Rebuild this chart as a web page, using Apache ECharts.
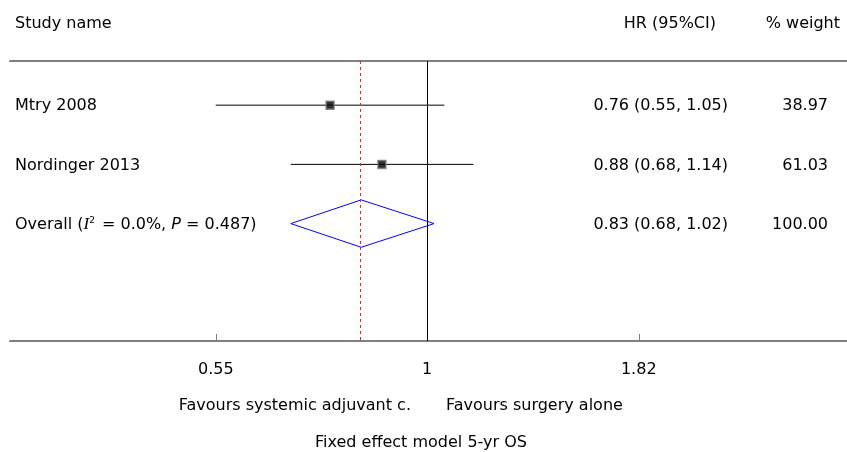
<!DOCTYPE html>
<html><head><meta charset="utf-8">
<script src="https://cdn.jsdelivr.net/npm/echarts@6/dist/echarts.min.js"></script>
<style>html,body{margin:0;padding:0;background:#fff}#c{width:847px;height:452px}</style>
</head><body><div id="c"></div>
<script>
const studies = ['Mtry 2008', 'Nordinger 2013'];
const hr = [0.76, 0.88];
const lower = [0.55, 0.68];
const upper = [1.05, 1.14];
const weights = ['38.97', '61.03'];
const overallLabel = 'Overall ({i|I}{s|2} = 0.0%, {p|P} = 0.487)';
const overallHR = 0.83, overallLo = 0.68, overallHi = 1.02, overallWeight = '100.00';
const tickValues = [0.55, 1, 1.82];
const tickLabels = ['0.55', '1', '1.82'];

const FONT = '"DejaVu Sans", sans-serif';
const FS = 16;
const ln = Math.log;
const fmt = v => v.toFixed(2);
const ciText = (h, l, u) => fmt(h) + ' (' + fmt(l) + ', ' + fmt(u) + ')';

const rows = studies.map((s, i) => ({row: i + 1, name: s, ci: ciText(hr[i], lower[i], upper[i]), w: weights[i]}));
rows.push({row: 3, name: overallLabel, ci: ciText(overallHR, overallLo, overallHi), w: overallWeight, rich: true});

const chart = echarts.init(document.getElementById('c'));
const tickLn = tickValues.map(ln);
chart.setOption({
  animation: false,
  textStyle: {fontFamily: FONT},
  grid: {left: 10, right: 0, top: 61, bottom: 111},
  xAxis: [{
    type: 'value', min: -1.18, max: 1.188, position: 'bottom',
    splitLine: {show: false},
    axisLine: {lineStyle: {color: '#808080', width: 2}},
    axisTick: {inside: true, length: 7, customValues: tickLn, lineStyle: {color: '#808080', width: 1}},
    axisLabel: {customValues: tickLn, margin: 21, color: '#000', fontSize: FS, fontFamily: FONT,
      formatter: v => { let k = 0; tickLn.forEach((t, j) => { if (Math.abs(t - v) < Math.abs(tickLn[k] - v)) k = j; }); return tickLabels[k]; }}
  }, {
    type: 'value', min: -1.18, max: 1.188, position: 'top',
    splitLine: {show: false}, axisTick: {show: false}, axisLabel: {show: false},
    axisLine: {lineStyle: {color: '#808080', width: 2}}
  }],
  yAxis: {type: 'value', inverse: true, min: 0.254, max: 4.983, show: false},
  graphic: [
    {type: 'text', left: 15, top: 16, style: {text: 'Study name', font: FS + 'px ' + FONT, fill: '#000'}},
    {type: 'text', right: 131, top: 16, style: {text: 'HR (95%CI)', font: FS + 'px ' + FONT, fill: '#000'}},
    {type: 'text', right: 7, top: 16, style: {text: '% weight', font: FS + 'px ' + FONT, fill: '#000'}},
    {type: 'text', right: 436, top: 398, style: {text: 'Favours systemic adjuvant c.', font: FS + 'px ' + FONT, fill: '#000'}},
    {type: 'text', left: 446, top: 398, style: {text: 'Favours surgery alone', font: FS + 'px ' + FONT, fill: '#000'}},
    {type: 'text', x: 421, y: 435, style: {text: 'Fixed effect model 5-yr OS', font: FS + 'px ' + FONT, fill: '#000', textAlign: 'center'}}
  ],
  series: [
    {
      type: 'custom', renderItem: (p, api) => {
        const a = api.coord([api.value(0), api.value(2)]);
        const b = api.coord([api.value(1), api.value(2)]);
        return {type: 'line', shape: {x1: a[0], y1: a[1], x2: b[0], y2: b[1]}, style: {stroke: '#000', lineWidth: 1}};
      },
      data: studies.map((s, i) => [ln(lower[i]), ln(upper[i]), i + 1]), z: 2
    },
    {
      type: 'scatter', symbol: 'rect', symbolSize: 8,
      itemStyle: {color: '#000', borderColor: '#7a7a7a', borderWidth: 1.5},
      data: studies.map((s, i) => [ln(hr[i]), i + 1]), z: 4,
      markLine: {
        silent: true, symbol: 'none', label: {show: false},
        data: [
          {xAxis: 0, lineStyle: {color: '#000', type: 'solid', width: 1}},
          {xAxis: ln(overallHR), lineStyle: {color: '#ff2020', type: [3, 3], width: 1}}
        ]
      }
    },
    {
      type: 'custom', renderItem: (p, api) => {
        const r = api.value(3);
        const L = api.coord([api.value(1), r]), R = api.coord([api.value(2), r]);
        const T = api.coord([api.value(0), r - 0.4]), B = api.coord([api.value(0), r + 0.4]);
        return {type: 'polygon', shape: {points: [L, T, R, B]}, style: {stroke: '#0000ff', fill: 'none', lineWidth: 1}};
      },
      data: [[ln(overallHR), ln(overallLo), ln(overallHi), 3]], z: 3
    },
    {
      type: 'custom', renderItem: (p, api) => {
        const d = rows[p.dataIndex];
        const y = api.coord([0, d.row])[1] + 1;
        const base = {font: FS + 'px ' + FONT, fill: '#000', textVerticalAlign: 'middle'};
        const nameStyle = Object.assign({}, base, {text: d.name, textAlign: 'left'});
        if (d.rich) {
          nameStyle.rich = {
            i: {fontStyle: 'italic', fontSize: 17, fontFamily: '"Liberation Serif", serif'},
            p: {fontStyle: 'italic', fontSize: FS, fontFamily: FONT},
            s: {fontSize: 9, fontFamily: FONT, verticalAlign: 'top', padding: [0, 2, 8, 0]}
          };
        }
        return {type: 'group', children: [
          {type: 'text', x: 15, y: y, style: nameStyle},
          {type: 'text', x: 728, y: y, style: Object.assign({}, base, {text: d.ci, textAlign: 'right'})},
          {type: 'text', x: 828, y: y, style: Object.assign({}, base, {text: d.w, textAlign: 'right'})}
        ]};
      },
      data: rows.map(r => [r.row]), z: 5
    }
  ]
});
</script></body></html>
